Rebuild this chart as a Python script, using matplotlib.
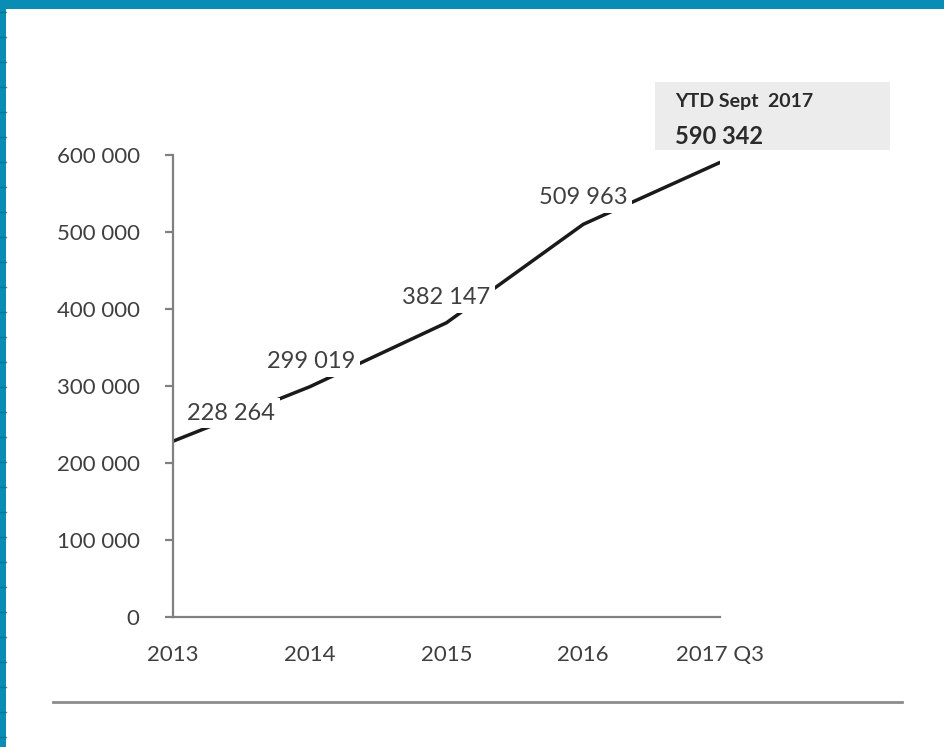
import matplotlib
matplotlib.use("Agg")
import matplotlib.pyplot as plt
from matplotlib.patches import Rectangle
from matplotlib.lines import Line2D

# Series
categories = ["2013", "2014", "2015", "2016", "2017 Q3"]
values = [228264, 299019, 382147, 509963, 590342]
value_labels = ["228 264", "299 019", "382 147", "509 963", "590 342"]
ytick_values = [0, 100000, 200000, 300000, 400000, 500000, 600000]
ytick_labels = ["0", "100 000", "200 000", "300 000", "400 000", "500 000", "600 000"]
callout_title = "YTD Sept  2017"

FONT = ["Lato", "DejaVu Sans"]
TEXT = "#3f3f3f"
BLUE = "#0a8db5"

fig = plt.figure(figsize=(9.45, 7.47), dpi=100)
fig.patch.set_facecolor("white")

W, H = 945, 747
def fx(px):
    return px / W
def fy(py):
    return 1 - py / H

# Blue frame along the top and left edges
fig.patches.append(Rectangle((0, fy(9)), 1, 9 / H, transform=fig.transFigure,
                             facecolor=BLUE, edgecolor="none", zorder=0))
fig.patches.append(Rectangle((0, 0), 6 / W, 1, transform=fig.transFigure,
                             facecolor=BLUE, edgecolor="none", zorder=0))
for k in range(12, H, 25):
    fig.lines.append(Line2D([0, 6 / W], [fy(k), fy(k)], transform=fig.transFigure,
                            color="#066a8a", lw=1.0, alpha=0.7))

# Rule under the chart
fig.lines.append(Line2D([fx(53), fx(902)], [fy(702), fy(702)], transform=fig.transFigure,
                        color="#8c8c8c", lw=2.0))

ax = fig.add_axes([fx(173), fy(617), fx(720) - fx(173), fy(155) - fy(617)])
x = list(range(len(categories)))
ax.plot(x, values, color="#1a1a1a", lw=2.5, solid_capstyle="round", zorder=2)

ax.set_xlim(0, 4)
ax.set_ylim(0, 600000)
ax.set_yticks(ytick_values)
ax.set_yticklabels(ytick_labels)
ax.set_xticks(x)
ax.set_xticklabels(categories)

for s in ("top", "right"):
    ax.spines[s].set_visible(False)
for s in ("left", "bottom"):
    ax.spines[s].set_color("#808080")
    ax.spines[s].set_linewidth(1.6)
ax.tick_params(axis="y", length=6, width=1.6, color="#808080", pad=18,
               labelsize=16, labelcolor=TEXT)
ax.tick_params(axis="x", length=0, pad=20, labelsize=16, labelcolor=TEXT)
for lab in ax.get_xticklabels() + ax.get_yticklabels():
    lab.set_fontfamily(FONT)

# Value labels with white backgrounds that break the line
offsets = [(58, 28), (1, 25), (0, 25), (0, 27)]
for i in range(4):
    ax.annotate(value_labels[i], (x[i], values[i]), xytext=offsets[i],
                textcoords="offset pixels", ha="center", va="center",
                fontsize=17, color=TEXT, family=FONT, zorder=5,
                bbox=dict(boxstyle="square,pad=0.2", facecolor="white",
                          edgecolor="none"))

# Callout box for the last point
fig.patches.append(Rectangle((fx(655), fy(150)), (890 - 655) / W, (150 - 82) / H,
                             transform=fig.transFigure, facecolor="#ececec",
                             edgecolor="none", zorder=1))
fig.text(fx(675), fy(102), callout_title, fontsize=14, fontweight="bold",
         color="#2a2a2a", family=FONT, ha="left", va="center")
fig.text(fx(675), fy(136), value_labels[4], fontsize=17, fontweight="bold",
         color="#2a2a2a", family=FONT, ha="left", va="center")

fig.savefig("out.png", dpi=100, facecolor="white")
